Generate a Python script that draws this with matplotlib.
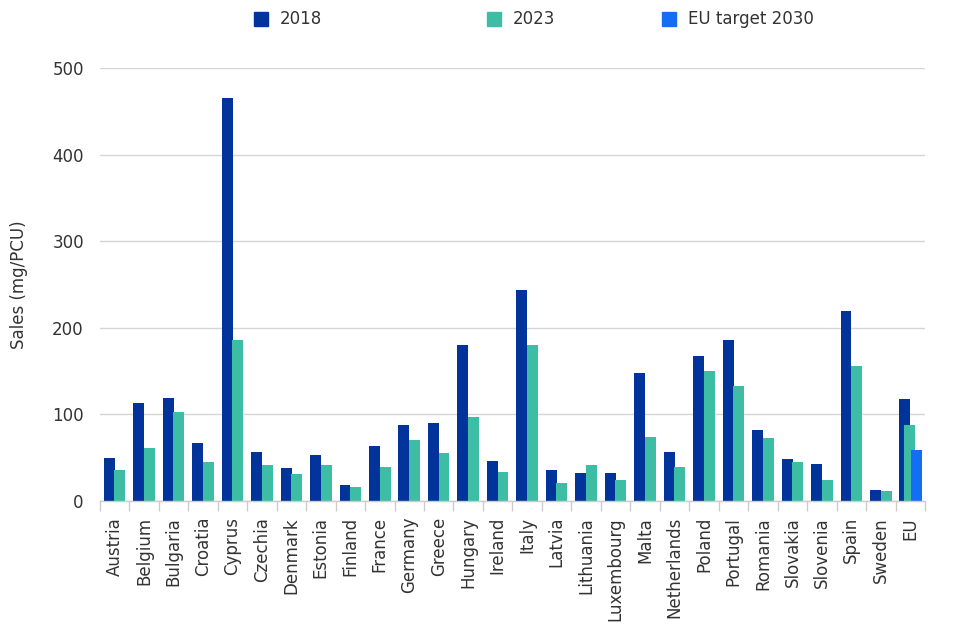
import matplotlib
matplotlib.use("Agg")
import matplotlib.pyplot as plt
from matplotlib.patches import Rectangle
import numpy as np

countries = ["Austria", "Belgium", "Bulgaria", "Croatia", "Cyprus", "Czechia",
             "Denmark", "Estonia", "Finland", "France", "Germany", "Greece",
             "Hungary", "Ireland", "Italy", "Latvia", "Lithuania", "Luxembourg",
             "Malta", "Netherlands", "Poland", "Portugal", "Romania", "Slovakia",
             "Slovenia", "Spain", "Sweden", "EU"]
sales_2018 = [50, 113, 119, 67, 465, 57, 38, 53, 18.5, 64, 88, 90,
              180, 46, 244, 36, 32, 32, 148, 57, 167, 186, 82, 48,
              43, 219, 13, 118]
sales_2023 = [36, 61, 103, 45, 186, 42, 31, 42, 16, 39, 70, 55,
              97, 34, 180, 21, 42, 24, 74, 39, 150, 133, 73, 45,
              24, 156, 12, 88]
target_label = ["EU"]
target_2030 = [59]

c2018 = "#00349a"
c2023 = "#3dbea4"
ctarget = "#146ef5"
txt = "#333333"

plt.rcParams["font.family"] = ["DejaVu Sans"]

W, H = 976, 638
fig = plt.figure(figsize=(W / 100, H / 100), dpi=100)
ax = fig.add_axes([99.8 / W, 1 - 501 / H, 825.2 / W, 433 / H])

x = np.arange(len(countries))
bw = 0.37
off18 = np.full(len(countries), -0.18)
off23 = np.full(len(countries), 0.18)
eu = countries.index("EU")
off18[eu] = -0.19
off23[eu] = -0.03

ax.bar(x + off18, sales_2018, width=bw, color=c2018, zorder=2)
ax.bar(x + off23, sales_2023, width=bw, color=c2023, zorder=3)
xt = np.array([countries.index(c) for c in target_label])
ax.bar(xt + 0.21, target_2030, width=bw, color=ctarget, zorder=4)

ax.set_xlim(-0.5, len(countries) - 0.5)
ax.set_ylim(0, 500)
ax.set_yticks([0, 100, 200, 300, 400, 500])
ax.grid(axis="y", color="#d6d6d6", linewidth=1, zorder=0)
ax.set_axisbelow(True)

for s in ["top", "right", "left"]:
    ax.spines[s].set_visible(False)
ax.spines["bottom"].set_color("#cccccc")
ax.spines["bottom"].set_linewidth(1)
ax.spines["bottom"].set_zorder(5)

ax.set_xticks(x)
ax.set_xticklabels(countries, rotation=90, va="top", ha="center")
ax.set_xticks(np.arange(len(countries) + 1) - 0.5, minor=True)
ax.tick_params(axis="x", which="major", length=0, pad=11.5, labelsize=12, labelcolor=txt)
ax.tick_params(axis="x", which="minor", length=7.5, width=1, color="#cccccc")
ax.tick_params(axis="y", length=0, pad=11.5, labelsize=12, labelcolor=txt)

ax.set_ylabel("Sales (mg/PCU)", fontsize=12, color=txt)
ax.yaxis.set_label_coords(-0.087, 0.5)

# legend across the top
legend_items = [("2018", c2018, 254), ("2023", c2023, 487), ("EU target 2030", ctarget, 662)]
for label, col, px in legend_items:
    fig.add_artist(Rectangle((px / W, 1 - 26 / H), 14 / W, 14 / H,
                             transform=fig.transFigure, color=col))
    fig.text((px + 26) / W, 1 - 19 / H, label, fontsize=12, color=txt,
             ha="left", va="center")

fig.savefig("out.png", dpi=100)
